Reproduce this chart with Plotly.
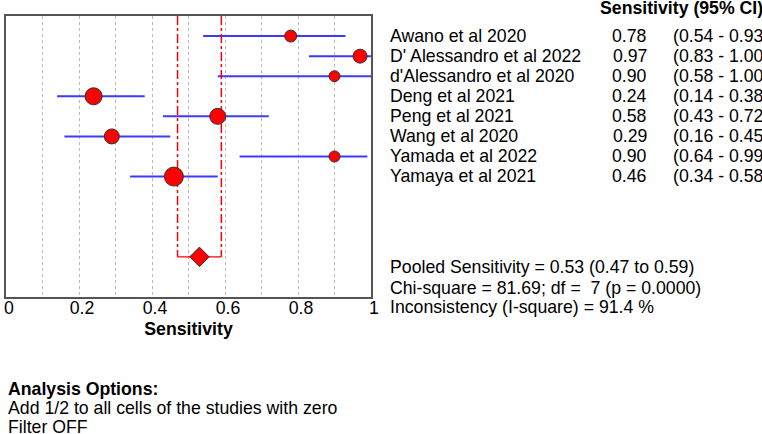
import plotly.graph_objects as go

# ---- data ----
studies = ["Awano et al 2020", "D' Alessandro et al 2022", "d'Alessandro et al 2020",
           "Deng et al 2021", "Peng et al 2021", "Wang et al 2020",
           "Yamada et al 2022", "Yamaya et al 2021"]
sens = [0.78, 0.97, 0.90, 0.24, 0.58, 0.29, 0.90, 0.46]
ci_lo = [0.54, 0.83, 0.58, 0.14, 0.43, 0.16, 0.64, 0.34]
ci_hi = [0.93, 1.00, 1.00, 0.38, 0.72, 0.45, 0.99, 0.58]
pooled = 0.53
pooled_lo = 0.47
pooled_hi = 0.59
chi_square = 81.69
df = 7
p_value = 0.0000
i_square = 91.4
tick_vals = [0, 0.2, 0.4, 0.6, 0.8, 1]
tick_text = ["0", "0.2", "0.4", "0.6", "0.8", "1"]

# ---- styles ----
marker_sizes = [12, 14, 11, 17, 16, 15, 11, 19]
FONT = "Liberation Sans, Arial, sans-serif"
FS = 17.7
W, H = 762, 434
L, R, T, B = 6, 371, 16, 297  # plot area in pixels
POOL_ROW = 11


def px(x):
    return (x - L) / (R - L)


def py(y):
    return (B - y) / (B - T)


rows = list(range(len(studies)))
fig = go.Figure()

# CI lines
lx, ly = [], []
for i, (a, b) in enumerate(zip(ci_lo, ci_hi)):
    lx += [a, b, None]
    ly += [i, i, None]
fig.add_trace(go.Scatter(x=lx, y=ly, mode="lines",
                         line=dict(color="#3b3bff", width=2),
                         hoverinfo="skip", showlegend=False))

# pooled CI vertical dash-dot lines
fig.add_trace(go.Scatter(x=[pooled_lo, pooled_lo, None, pooled_hi, pooled_hi],
                         y=[-1, POOL_ROW, None, -1, POOL_ROW], mode="lines",
                         line=dict(color="#ff0000", width=1.5, dash="dashdot"),
                         hoverinfo="skip", showlegend=False))
fig.add_trace(go.Scatter(x=[pooled_lo, pooled_hi], y=[POOL_ROW, POOL_ROW], mode="lines",
                         line=dict(color="#ff0000", width=1.3),
                         hoverinfo="skip", showlegend=False))

# study points
fig.add_trace(go.Scatter(x=sens, y=rows, mode="markers",
                         marker=dict(color="#ff0000", size=marker_sizes, opacity=1,
                                     line=dict(color="#333333", width=1)),
                         showlegend=False))
# pooled diamond
fig.add_trace(go.Scatter(x=[pooled], y=[POOL_ROW], mode="markers",
                         marker=dict(symbol="diamond", color="#ff0000", size=15, opacity=1,
                                     line=dict(color="#333333", width=1)),
                         showlegend=False))

ann = []
base = dict(xref="paper", yref="paper", showarrow=False, yanchor="middle",
            font=dict(family=FONT, size=FS, color="black"))

ann.append(dict(base, x=px(598), y=py(8), xanchor="left",
                text="<b>Sensitivity (95% CI)</b>"))
for i, (s, v, a, b) in enumerate(zip(studies, sens, ci_lo, ci_hi)):
    yy = py(36 + 20 * i)
    ann.append(dict(base, x=px(388), y=yy, xanchor="left", text=s))
    ann.append(dict(base, x=px(649), y=yy, xanchor="right", text=f"{v:.2f}"))
    ann.append(dict(base, x=px(671), y=yy, xanchor="left", text=f"({a:.2f} - {b:.2f})"))

ann.append(dict(base, x=px(388), y=py(267), xanchor="left",
                text=f"Pooled Sensitivity = {pooled:.2f} ({pooled_lo:.2f} to {pooled_hi:.2f})"))
ann.append(dict(base, x=px(388), y=py(288), xanchor="left",
                text=f"Chi-square = {chi_square:.2f}; df =  {df} (p = {p_value:.4f})"))
ann.append(dict(base, x=px(388), y=py(307), xanchor="left",
                text=f"Inconsistency (I-square) = {i_square:.1f} %"))

ann.append(dict(base, x=px(6), y=py(389), xanchor="left", text="<b>Analysis Options:</b>"))
ann.append(dict(base, x=px(6), y=py(408), xanchor="left",
                text="Add 1/2 to all cells of the studies with zero"))
ann.append(dict(base, x=px(6), y=py(427), xanchor="left", text="Filter OFF"))

fig.update_layout(
    width=W, height=H,
    margin=dict(l=L, r=W - R, t=T, b=H - B, pad=0),
    paper_bgcolor="white", plot_bgcolor="white",
    font=dict(family=FONT, size=FS, color="black"),
    annotations=ann,
    xaxis=dict(range=[0, 1], tickmode="array", tickvals=tick_vals, ticktext=tick_text,
               ticks="", showgrid=True, gridcolor="#b8b8b8", griddash="dot", gridwidth=1,
               minor=dict(dtick=0.1, tick0=0, showgrid=True, gridcolor="#b8b8b8",
                          griddash="dot", gridwidth=1),
               showline=True, mirror=True, linecolor="#555555", linewidth=1.5,
               zeroline=False, ticklabelshift=3, ticklabelstandoff=-6, automargin=False,
               title=dict(text="<b>Sensitivity</b>", standoff=6,
                          font=dict(family=FONT, size=FS))),
    yaxis=dict(range=[13, -1], showticklabels=False, ticks="", showgrid=False,
               zeroline=False, showline=True, mirror=True, linecolor="#555555",
               linewidth=1.5, automargin=False),
)

fig.write_html("out.html", config={"displayModeBar": False},
               post_script="document.body.style.margin='0px';")
